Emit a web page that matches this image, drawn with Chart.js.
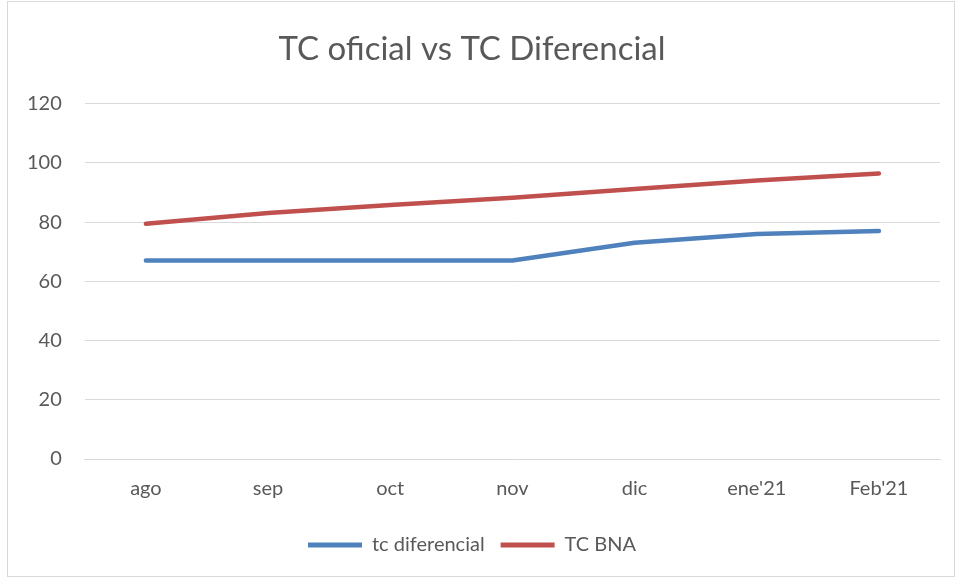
<!DOCTYPE html>
<html><head><meta charset="utf-8">
<script src="https://cdn.jsdelivr.net/npm/chart.js@4/dist/chart.umd.min.js"></script>
<style>
html,body{margin:0;padding:0;background:#fff;}
#wrap{position:absolute;left:7px;top:1px;width:948px;height:576px;border:1px solid #d9d9d9;box-sizing:border-box;}
#c{position:absolute;left:0;top:0;}
</style></head>
<body>
<div id="wrap"></div>
<canvas id="c" width="959" height="581"></canvas>
<script>
const categories = ["ago","sep","oct","nov","dic","ene'21","Feb'21"];
const tcDiferencial = [67, 67, 67, 67, 73, 76, 77];
const tcBNA = [79.4, 83.1, 85.8, 88.2, 91.2, 94.0, 96.4];
const yTicks = [0,20,40,60,80,100,120];

const FONT = "Lato, 'Open Sans', sans-serif";
new Chart(document.getElementById('c'), {
  type: 'line',
  data: {
    labels: categories,
    datasets: [
      {label: 'tc diferencial', data: tcDiferencial, borderColor: '#4f81bd', backgroundColor: '#4f81bd', borderWidth: 4.5, pointRadius: 0, borderCapStyle: 'round', borderJoinStyle: 'round', tension: 0},
      {label: 'TC BNA', data: tcBNA, borderColor: '#c0504d', backgroundColor: '#c0504d', borderWidth: 4.5, pointRadius: 0, borderCapStyle: 'round', borderJoinStyle: 'round', tension: 0}
    ]
  },
  options: {
    responsive: false,
    animation: false,
    layout: {padding: {left: 4, right: 19, top: 8, bottom: 16}},
    plugins: {
      title: {display: true, text: 'TC oficial vs TC Diferencial', color: '#595959', font: {family: FONT, size: 33, weight: 'normal'}, padding: {top: 22, bottom: 34}},
      legend: {position: 'bottom', labels: {color: '#595959', font: {family: FONT, size: 20}, boxWidth: 54, boxHeight: 0, padding: 16,
        generateLabels: (chart) => chart.data.datasets.map((d,i) => ({text: d.label, fillStyle: d.borderColor, strokeStyle: d.borderColor, lineWidth: 5, lineCap: 'round', datasetIndex: i, fontColor: '#595959'}))
      }},
      tooltip: {enabled: false}
    },
    scales: {
      x: {offset: true, grid: {display: false}, border: {color: '#d9d9d9'}, ticks: {color: '#595959', font: {family: FONT, size: 20}, padding: 10},
          afterFit: (s) => { s.height += 8; }},
      y: {min: 0, max: 120, afterBuildTicks: (s) => { s.ticks = yTicks.map(v => ({value: v})); },
          grid: {color: '#d9d9d9', drawTicks: false, lineWidth: 1}, border: {display: false},
          ticks: {color: '#595959', font: {family: FONT, size: 20}, padding: 23}}
    }
  }
});
</script>
</body></html>
